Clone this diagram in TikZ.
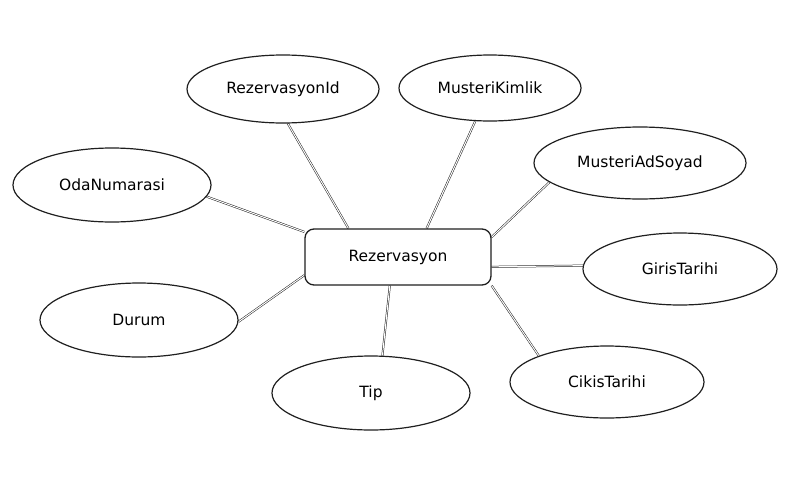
\documentclass[tikz,border=0pt]{standalone}
\usepackage{fontspec}
\setmainfont{DejaVu Sans}
\usepackage{tikz}
\usetikzlibrary{shapes.geometric}
\pgfdeclarelayer{edgelayer}
\pgfdeclarelayer{nodelayer}
\pgfsetlayers{edgelayer,nodelayer,main}
\definecolor{ink}{rgb}{0.12,0.12,0.12}
\tikzstyle{attr}=[ellipse,draw=ink,line width=1.2pt,inner sep=0pt,font=\fontsize{15.5}{18}\selectfont]
\tikzstyle{entity}=[rectangle,rounded corners=9pt,draw=ink,line width=1.3pt,minimum width=186pt,minimum height=56pt,font=\fontsize{15.5}{18}\selectfont]
\tikzstyle{link}=[-,draw=ink,double=white,double distance=1pt,line width=0.5pt]

\begin{document}
\begin{tikzpicture}[x=1pt,y=-1pt]
	\useasboundingbox (0,0) rectangle (811,501);
	\begin{pgfonlayer}{nodelayer}
		\node [style=entity] (rez) at (398, 257) {Rezervasyon};
		\node [style=attr, minimum width=192pt, minimum height=68pt] (rid) at (283, 89) {RezervasyonId};
		\node [style=attr, minimum width=182pt, minimum height=66pt] (mk) at (490, 88) {MusteriKimlik};
		\node [style=attr, minimum width=212pt, minimum height=72pt] (mas) at (640, 163) {MusteriAdSoyad};
		\node [style=attr, minimum width=198pt, minimum height=74pt] (oda) at (112, 185) {OdaNumarasi};
		\node [style=attr, minimum width=194pt, minimum height=72pt] (gt) at (680, 269) {GirisTarihi};
		\node [style=attr, minimum width=198pt, minimum height=74pt] (dur) at (139, 320) {Durum};
		\node [style=attr, minimum width=194pt, minimum height=72pt] (ct) at (607, 382) {CikisTarihi};
		\node [style=attr, minimum width=198pt, minimum height=74pt] (tip) at (371, 393) {Tip};
	\end{pgfonlayer}
	\begin{pgfonlayer}{edgelayer}
		\draw [style=link] (rid.-82) to (rez.150);
		\draw [style=link] (mk.-114) to (rez.45);
		\draw [style=link] (mas.-168) to (rez.12);
		\draw [style=link] (oda.-7) to (rez.165);
		\draw [style=link] (gt.178) to (rez.-6);
		\draw [style=link] (dur.-1) to (rez.-169);
		\draw [style=link] (ct.159) to (rez.-17);
		\draw [style=link] (tip.73) to (rez.-106);
	\end{pgfonlayer}
\end{tikzpicture}
\end{document}
